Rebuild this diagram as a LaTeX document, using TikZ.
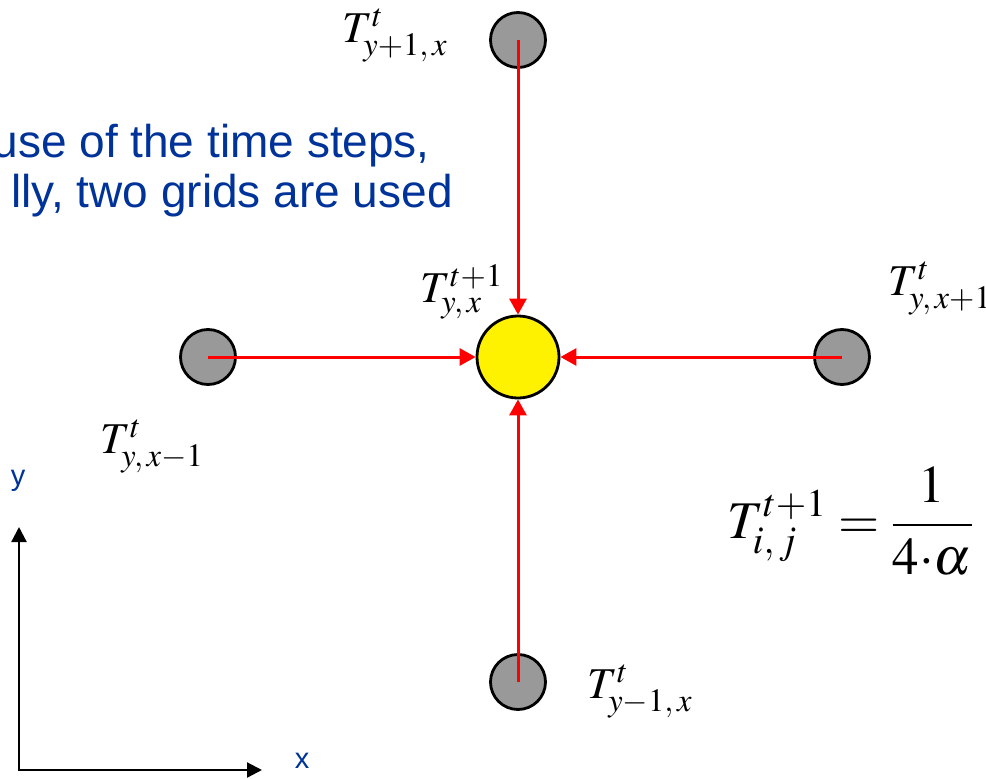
\documentclass[tikz,border=0pt]{standalone}
\usepackage{mathptmx}
\usepackage{fontspec}
\newfontfamily\arialfont{Liberation Sans}
\usetikzlibrary{arrows.meta,positioning}
\definecolor{textblue}{RGB}{0,51,153}
\definecolor{nodegray}{RGB}{153,153,153}

\begin{document}
\begin{tikzpicture}[
  x=1pt,y=-1pt,
  grid/.style={circle,draw,line width=2.8pt,fill=nodegray,minimum size=55pt,inner sep=0pt},
  cell/.style={circle,draw,line width=2.8pt,fill=yellow,minimum size=82pt,inner sep=0pt},
  flow/.style={red,line width=3pt,-{Triangle[length=16pt,width=17pt]}},
  axis/.style={line width=2.2pt,<->},
  lbl/.style={anchor=base west,inner sep=0pt,font=\fontsize{44}{48}\selectfont},
  note/.style={anchor=base east,inner sep=0pt,text=textblue,font=\arialfont\fontsize{46}{50}\selectfont},
  axlbl/.style={inner sep=0pt,text=textblue,font=\arialfont\fontsize{29}{31}\selectfont},
  >={Triangle[length=15pt,width=15pt]}
]
\useasboundingbox (0,0) rectangle (986,779);
\clip (0,0) rectangle (986,779);
% stencil points
\node[cell] (C) at (518,357) {};
\node[grid] (N) at (518,40)  {};
\node[grid] (S) at (518,682) {};
\node[grid] (W) at (208,357) {};
\node[grid] (E) at (842,357) {};
\draw[flow] (N.center) -- (C); \draw[flow] (S.center) -- (C);
\draw[flow] (W.center) -- (C); \draw[flow] (E.center) -- (C);
% labels
\node[lbl] (LN) at (342,42)  {$T^{t}_{y+1,\,x}$};
\node[lbl] (LC) at (420,302) {$T^{t+1}_{y,\,x}$};
\node[lbl] (LE) at (888,295) {$T^{t}_{y,\,x+1}$};
\node[lbl] (LW) at (100,453) {$T^{t}_{y,\,x-1}$};
\node[lbl] (LS) at (587,698) {$T^{t}_{y-1,\,x}$};
\node[anchor=base west,inner sep=0pt,font=\fontsize{53}{58}\selectfont] (F) at (727,538)
  {$T^{t+1}_{i,\,j} = \displaystyle\frac{1}{4{\cdot}\alpha}$};
% text
\node[note] (T1) at (430,157) {use of the time steps,};
\node[note] (T2) at (453,207) {lly, two grids are used};
% axes
\coordinate (O) at (19,770);
\coordinate (XE) at (262,770);
\coordinate (YE) at (19,527);
\draw[axis] (YE) -- (O) -- (XE);
\node[axlbl] (YL) at (18,481) {y};
\node[axlbl] (XL) at (302,761) {x};
\end{tikzpicture}
\end{document}
